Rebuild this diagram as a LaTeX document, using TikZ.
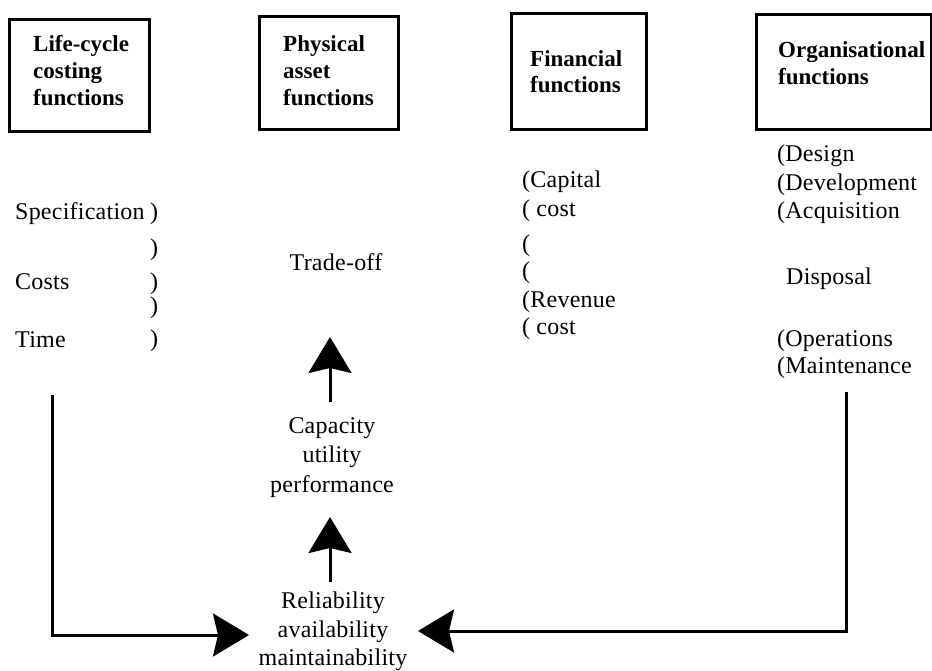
\documentclass[tikz,border=0pt]{standalone}
\usepackage{fontspec}
\setmainfont{Liberation Serif}[LetterSpace=1, BoldFeatures={LetterSpace=0}]
\usetikzlibrary{arrows.meta}
\begin{document}
\begin{tikzpicture}[x=1pt,y=-1pt,
  hdrbox/.style={draw, line width=3pt, inner sep=0pt, anchor=north west},
  hdr/.style={font=\bfseries\fontsize{23}{27}\selectfont, inner sep=0pt, anchor=base west},
  lbl/.style={font=\fontsize{24}{28}\selectfont, inner sep=0pt, anchor=base west},
  clbl/.style={font=\fontsize{24}{28}\selectfont, inner sep=0pt, anchor=base},
  arr/.style={line width=3pt, -{Stealth[length=36pt,width=43pt,inset=5pt]}}]

\useasboundingbox (0,0) rectangle (932,671);

% header boxes
\node[hdrbox, minimum width=140pt, minimum height=112pt] (b1) at (8,18) {};
\node[hdrbox, minimum width=139pt, minimum height=113pt] (b2) at (258,15) {};
\node[hdrbox, minimum width=135pt, minimum height=116pt] (b3) at (510,12) {};
\node[hdrbox, minimum width=175pt, minimum height=115pt] (b4) at (755,13) {};

\node[hdr] (h1a) at (33,52)  {Life-cycle};
\node[hdr] (h1b) at (33,79)  {costing};
\node[hdr] (h1c) at (33,106) {functions};
\node[hdr] (h2a) at (283,52)  {Physical};
\node[hdr] (h2b) at (283,79)  {asset};
\node[hdr] (h2c) at (283,106) {functions};
\node[hdr] (h3a) at (530,67) {Financial};
\node[hdr] (h3b) at (530,93) {functions};
\node[hdr] (h4a) at (778,58) {Organisational};
\node[hdr] (h4b) at (778,85) {functions};

% life-cycle costing column
\node[lbl] (spec)  at (15,220) {Specification};
\node[lbl] (p1)    at (150,220) {)};
\node[lbl] (p2)    at (150,255) {)};
\node[lbl] (costs) at (15,289) {Costs};
\node[lbl] (p3)    at (150,289) {)};
\node[lbl] (p4)    at (150,313) {)};
\node[lbl] (time)  at (15,347) {Time};
\node[lbl] (p5)    at (150,346) {)};

% physical asset column
\node[clbl] (trade) at (336,270) {Trade-off};
\node[clbl] (cap1) at (332,433) {Capacity};
\node[clbl] (cap2) at (332,462) {utility};
\node[clbl] (cap3) at (332,492) {performance};
\node[clbl] (rel1) at (333,608) {Reliability};
\node[clbl] (rel2) at (333,637) {availability};
\node[clbl] (rel3) at (333,665) {maintainability};

% financial column
\node[lbl] (f1) at (522,188) {(Capital};
\node[lbl] (f2) at (522,217) {( cost};
\node[lbl] (f3) at (522,252) {(};
\node[lbl] (f4) at (522,279) {(};
\node[lbl] (f5) at (522,307) {(Revenue};
\node[lbl] (f6) at (522,334) {( cost};

% organisational column
\node[lbl] (o1) at (777,162) {(Design};
\node[lbl] (o2) at (777,191) {(Development};
\node[lbl] (o3) at (777,219) {(Acquisition};
\node[lbl] (o4) at (786,284) {Disposal};
\node[lbl] (o5) at (777,346) {(Operations};
\node[lbl] (o6) at (777,373) {(Maintenance};

% connector end points
\coordinate (upAfoot) at (330,402);
\coordinate (upAtip)  at (330,337);
\coordinate (upBfoot) at (330,582);
\coordinate (upBtip)  at (330,517);
\coordinate (lcTop)   at (52,395);
\coordinate (lcTip)   at (249,635);
\coordinate (ocTop)   at (846,392);
\coordinate (ocTip)   at (418,631);

% arrows
\draw[arr] (upAfoot) -- (upAtip);
\draw[arr] (upBfoot) -- (upBtip);
\draw[arr] (lcTop) |- (lcTip);
\draw[arr] (ocTop) |- (ocTip);
\end{tikzpicture}
\end{document}
